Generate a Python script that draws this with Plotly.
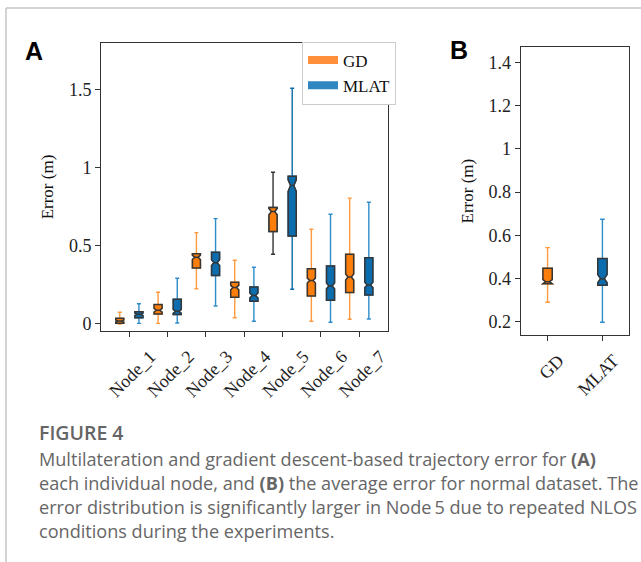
import plotly.graph_objects as go

W, H = 641, 562

# ---------------- data ----------------
nodes = ["Node_1", "Node_2", "Node_3", "Node_4", "Node_5", "Node_6", "Node_7"]

gd_low = [0.000, 0.004, 0.226, 0.040, 0.447, 0.017, 0.030]
gd_q1 = [0.004, 0.064, 0.359, 0.171, 0.592, 0.180, 0.201]
gd_med = [0.019, 0.088, 0.427, 0.233, 0.720, 0.278, 0.301]
gd_q3 = [0.036, 0.124, 0.450, 0.267, 0.746, 0.353, 0.447]
gd_high = [0.075, 0.203, 0.585, 0.408, 0.972, 0.607, 0.806]
gd_notch = [0.006, 0.012, 0.014, 0.014, 0.020, 0.016, 0.019]

mlat_low = [0.004, 0.006, 0.115, 0.017, 0.222, 0.011, 0.032]
mlat_q1 = [0.040, 0.060, 0.310, 0.145, 0.564, 0.152, 0.186]
mlat_med = [0.062, 0.081, 0.393, 0.182, 0.887, 0.244, 0.250]
mlat_q3 = [0.079, 0.158, 0.460, 0.237, 0.947, 0.372, 0.425]
mlat_high = [0.130, 0.293, 0.675, 0.363, 1.510, 0.703, 0.780]
mlat_notch = [0.008, 0.013, 0.019, 0.016, 0.037, 0.018, 0.017]

methods = ["GD", "MLAT"]
avg_low = [0.290, 0.197]
avg_q1 = [0.375, 0.368]
avg_med = [0.385, 0.399]
avg_q3 = [0.447, 0.492]
avg_high = [0.543, 0.674]
avg_notch = [0.010, 0.019]

# ---------------- styles ----------------
GD_FILL = "#fb7d0a"
MLAT_FILL = "#0b6dae"
GD_WHISK = ["#ff9a40"] * 4 + ["#333333"] + ["#ff9a40"] * 2
MLAT_WHISK = ["#2f8ccb"] * 4 + ["#0a6aa8"] + ["#2f8ccb"] * 2
EDGE = "#363636"
SERIF = "Liberation Serif"

fig = go.Figure()


def whisker_trace(x, lo, q1, me, q3, hi, nspan, color, group, xa, ya, width=None):
    kw = dict(width=width) if width else {}
    return go.Box(
        x=x, q1=q1, median=me, q3=q3, lowerfence=lo, upperfence=hi,
        notched=True, notchspan=nspan, notchwidth=0.3,
        fillcolor="rgba(0,0,0,0)", line=dict(color=color, width=1.4),
        whiskerwidth=0.5, offsetgroup=group, showlegend=False,
        xaxis=xa, yaxis=ya, hoverinfo="skip", **kw)


def body_trace(x, q1, me, q3, nspan, fill, group, xa, ya, width=None):
    kw = dict(width=width) if width else {}
    return go.Box(
        x=x, q1=q1, median=me, q3=q3, lowerfence=q1, upperfence=q3,
        notched=True, notchspan=nspan, notchwidth=0.3,
        fillcolor=fill, line=dict(color=EDGE, width=1.5),
        whiskerwidth=0, offsetgroup=group, showlegend=False,
        xaxis=xa, yaxis=ya, **kw)


# Panel A whiskers (one per node, so each can take its own colour)
for i, n in enumerate(nodes):
    fig.add_trace(whisker_trace([n], [gd_low[i]], [gd_q1[i]], [gd_med[i]], [gd_q3[i]],
                                [gd_high[i]], [gd_notch[i]], GD_WHISK[i], "GD", "x", "y"))
    fig.add_trace(whisker_trace([n], [mlat_low[i]], [mlat_q1[i]], [mlat_med[i]], [mlat_q3[i]],
                                [mlat_high[i]], [mlat_notch[i]], MLAT_WHISK[i], "MLAT", "x", "y"))

# Panel A bodies
fig.add_trace(body_trace(nodes, gd_q1, gd_med, gd_q3, gd_notch, GD_FILL, "GD", "x", "y"))
fig.add_trace(body_trace(nodes, mlat_q1, mlat_med, mlat_q3, mlat_notch, MLAT_FILL, "MLAT", "x", "y"))

# Panel B
b_fill = [GD_FILL, MLAT_FILL]
b_whisk = ["#ff9a40", "#2f8ccb"]
for i, m in enumerate(methods):
    fig.add_trace(whisker_trace([m], [avg_low[i]], [avg_q1[i]], [avg_med[i]], [avg_q3[i]],
                                [avg_high[i]], [avg_notch[i]], b_whisk[i], "B", "x2", "y2", width=0.17))
for i, m in enumerate(methods):
    fig.add_trace(body_trace([m], [avg_q1[i]], [avg_med[i]], [avg_q3[i]], [avg_notch[i]],
                             b_fill[i], "B", "x2", "y2", width=0.17))

# legend entries
fig.add_trace(go.Scatter(x=[None], y=[None], mode="lines", name="GD",
                         line=dict(color="#ff8f3a", width=8), xaxis="x", yaxis="y"))
fig.add_trace(go.Scatter(x=[None], y=[None], mode="lines", name="MLAT",
                         line=dict(color="#2f86c0", width=8), xaxis="x", yaxis="y"))


def px_x(v):
    return v / W


def px_y(v):
    return 1 - v / H


axis_common = dict(showline=True, linecolor="#333333", linewidth=1, mirror=True,
                   ticks="outside", ticklen=5, tickwidth=1, tickcolor="#333333",
                   showgrid=False, zeroline=False, automargin=False,
                   tickfont=dict(family=SERIF, size=18, color="#222222"))

fig.update_layout(
    width=W, height=H, autosize=False,
    margin=dict(l=0, r=0, t=0, b=0, pad=0, autoexpand=False),
    paper_bgcolor="white", plot_bgcolor="white",
    boxmode="group", boxgap=0, boxgroupgap=0.58,
    showlegend=True,
    legend=dict(x=px_x(302), y=px_y(41.5), xanchor="left", yanchor="top",
                bgcolor="white", bordercolor="#cccccc", borderwidth=1,
                font=dict(family=SERIF, size=17, color="#111111"),
                tracegroupgap=0, itemwidth=30),
    xaxis=dict(domain=[px_x(101), px_x(388)], anchor="y", type="category",
               range=[-0.74, 6.75], tickangle=-45,
               ticklabelshift=21, ticklabelstandoff=2, **axis_common),
    yaxis=dict(domain=[px_y(331), px_y(43)], anchor="x", range=[-0.045, 1.80],
               tickvals=[0, 0.5, 1, 1.5],
               title=dict(text="Error (m)", standoff=10,
                          font=dict(family=SERIF, size=17, color="#111111")),
               **axis_common),
    xaxis2=dict(domain=[px_x(520.7), px_x(629.3)], anchor="y2", type="category",
                range=[-0.49, 1.49], tickangle=-45,
                ticklabelshift=11, ticklabelstandoff=2, **axis_common),
    yaxis2=dict(domain=[px_y(335), px_y(47.3)], anchor="x2", range=[0.138, 1.471],
                tick0=0.2, dtick=0.2,
                title=dict(text="Error (m)", standoff=10,
                           font=dict(family=SERIF, size=17, color="#111111")),
                **axis_common),
)

# card border
fig.add_shape(type="line", xref="paper", yref="paper", x0=px_x(6), x1=1.0,
              y0=px_y(8), y1=px_y(8), line=dict(color="#c4c4c4", width=1.5))
fig.add_shape(type="line", xref="paper", yref="paper", x0=px_x(6), x1=px_x(6),
              y0=px_y(8), y1=0.0, line=dict(color="#c4c4c4", width=1.5))

# panel letters
for txt, cx, cy in [("A", 34, 51), ("B", 458.5, 50)]:
    fig.add_annotation(text=f"<b>{txt}</b>", xref="paper", yref="paper",
                       x=px_x(cx), y=px_y(cy), xanchor="center", yanchor="middle",
                       showarrow=False,
                       font=dict(family="Liberation Sans", size=25, color="#000000"))

# caption
CAP = "Open Sans"
fig.add_annotation(text="FIGURE 4", xref="paper", yref="paper", x=px_x(37), y=px_y(432),
                   xanchor="left", yanchor="middle", showarrow=False,
                   font=dict(family=CAP, size=19.5, color="#656565", weight=600))
cap_lines = [
    "Multilateration and gradient descent-based trajectory error for <b>(A)</b>",
    "each individual node, and <b>(B)</b> the average error for normal dataset. The",
    "error distribution is significantly larger in Node\u20095 due to repeated NLOS",
    "conditions during the experiments.",
]
for k, line in enumerate(cap_lines):
    fig.add_annotation(text=line, xref="paper", yref="paper", x=px_x(37),
                       y=px_y(459 + 24 * k), xanchor="left", yanchor="middle",
                       showarrow=False,
                       font=dict(family=CAP, size=18.1, color="#666666"))

fig.write_html("out.html",
               post_script="document.body.style.margin='0px';"
                           "document.body.style.overflow='hidden';")
